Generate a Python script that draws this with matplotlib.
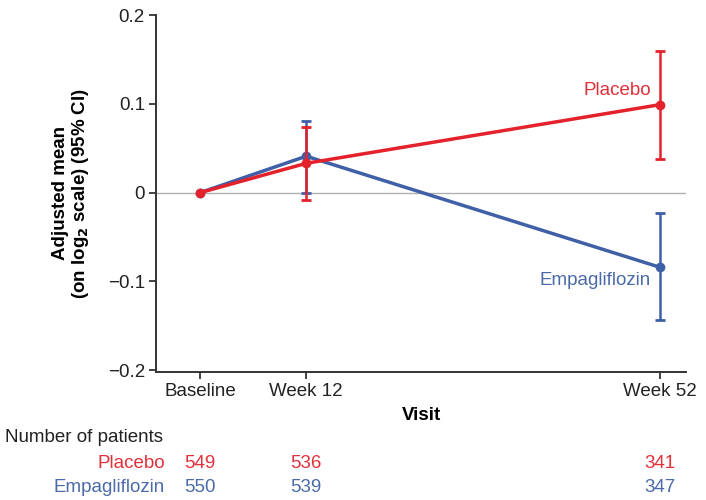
import matplotlib.pyplot as plt
import matplotlib.transforms as mtransforms

visits = ["Baseline", "Week 12", "Week 52"]
weeks = [0, 12, 52]

placebo_mean = [0.0, 0.033, 0.099]
placebo_lo = [0.0, -0.008, 0.038]
placebo_hi = [0.0, 0.074, 0.160]

empa_mean = [0.0, 0.041, -0.084]
empa_lo = [0.0, 0.0, -0.144]
empa_hi = [0.0, 0.081, -0.023]

n_placebo = [549, 536, 341]
n_empa = [550, 539, 347]

red = "#e4222c"
blue = "#3f5fa6"
red_txt = "#e0303a"
blue_txt = "#4a6aa8"
fs = 13.5

plt.rcParams["font.family"] = ["Liberation Sans", "DejaVu Sans"]

fig = plt.figure(figsize=(7.06, 5), dpi=100)
ax = fig.add_axes([0.221, 0.256, 0.751, 0.714])

ax.axhline(0, color="#b0b0b0", lw=1, zorder=1)


def err(mean, lo, hi):
    return [[m - l for m, l in zip(mean, lo)], [h - m for m, h in zip(mean, hi)]]


ax.errorbar(weeks[1:], empa_mean[1:], yerr=err(empa_mean[1:], empa_lo[1:], empa_hi[1:]),
            fmt="none", ecolor=blue, elinewidth=1.8, capsize=3.5, capthick=2, zorder=2)
ax.plot(weeks, empa_mean, color=blue, lw=2.5, marker="o", markersize=6, zorder=3)
ax.errorbar(weeks[1:], placebo_mean[1:], yerr=err(placebo_mean[1:], placebo_lo[1:], placebo_hi[1:]),
            fmt="none", ecolor=red, elinewidth=1.8, capsize=3.5, capthick=2, zorder=4)
ax.plot(weeks, placebo_mean, color=red, lw=2.5, marker="o", markersize=6, zorder=5)

ax.text(51.0, 0.115, "Placebo", color=red_txt, fontsize=fs, ha="right", va="center")
ax.text(51.0, -0.099, "Empagliflozin", color=blue_txt, fontsize=fs, ha="right", va="center")

ax.set_xlim(-5, 55)
ax.set_ylim(-0.202, 0.2)
ax.set_xticks(weeks)
ax.set_xticklabels(visits)
ax.set_yticks([-0.2, -0.1, 0, 0.1, 0.2])
ax.set_yticklabels(["\u22120.2", "\u22120.1", "0", "0.1", "0.2"])
ax.tick_params(labelsize=fs, colors="#222222", length=5, width=1.2, pad=3)
for s in ["top", "right"]:
    ax.spines[s].set_visible(False)
for s in ["left", "bottom"]:
    ax.spines[s].set_linewidth(1.4)
    ax.spines[s].set_color("#333333")

ax.set_xlabel("Visit", fontsize=fs, fontweight="bold", labelpad=5)
ax.set_ylabel("Adjusted mean\n(on log$_\\mathbf{2}$ scale) (95% CI)", fontsize=fs,
              fontweight="bold", labelpad=12, linespacing=1.05)

trans = mtransforms.blended_transform_factory(ax.transData, fig.transFigure)
fig.text(0.007, 0.124, "Number of patients", fontsize=fs, color="#222222", va="center")
fig.text(0.234, 0.074, "Placebo", fontsize=fs, color=red_txt, ha="right", va="center")
fig.text(0.234, 0.024, "Empagliflozin", fontsize=fs, color=blue_txt, ha="right", va="center")
for w, a, b in zip(weeks, n_placebo, n_empa):
    ax.text(w, 0.074, str(a), transform=trans, fontsize=fs, color=red_txt, ha="center", va="center")
    ax.text(w, 0.024, str(b), transform=trans, fontsize=fs, color=blue_txt, ha="center", va="center")

fig.savefig("out.png", dpi=100)
